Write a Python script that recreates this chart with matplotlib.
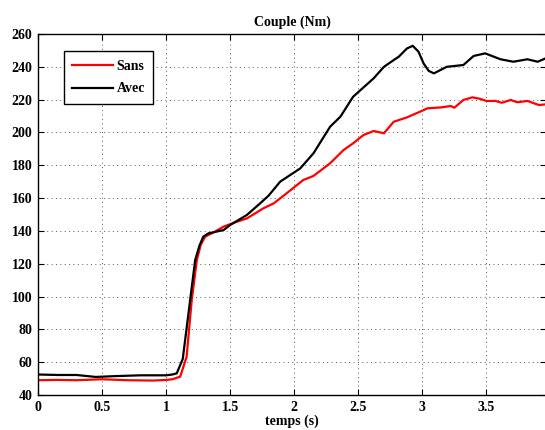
import matplotlib
matplotlib.use('Agg')
import matplotlib.pyplot as plt

# Values
t_sans = [0.0, 0.15, 0.3, 0.5, 0.7, 0.9, 1.0, 1.05, 1.11, 1.16, 1.2, 1.24, 1.27, 1.305,
          1.38, 1.448, 1.53, 1.63, 1.76, 1.84, 1.95, 2.07, 2.15, 2.28, 2.385, 2.46, 2.54,
          2.62, 2.70, 2.776, 2.88, 2.98, 3.04, 3.15, 3.22, 3.25, 3.32, 3.39, 3.45, 3.5,
          3.57, 3.62, 3.69, 3.74, 3.82, 3.91, 3.96]
v_sans = [49.0, 49.2, 49.0, 49.6, 49.0, 48.8, 49.2, 49.6, 51.2, 63.3, 97.9, 122.3, 131.5, 136.5,
          139.5, 142.6, 145.0, 147.6, 153.8, 156.8, 163.5, 171.0, 173.5, 181.2, 189.3, 193.4, 198.4,
          200.9, 199.5, 206.5, 209.2, 212.6, 214.7, 215.3, 216.1, 215.1, 219.8, 221.4, 220.5, 219.2,
          219.2, 218.1, 219.8, 218.4, 219.2, 216.7, 217.1]

t_avec = [0.0, 0.15, 0.3, 0.45, 0.6, 0.8, 1.0, 1.05, 1.083, 1.13, 1.1875, 1.227, 1.26, 1.29,
          1.33, 1.448, 1.5, 1.63, 1.734, 1.8, 1.89, 2.047, 2.15, 2.28, 2.36, 2.46, 2.62,
          2.70, 2.776, 2.815, 2.88, 2.925, 2.97, 3.01, 3.05, 3.09, 3.19, 3.32, 3.4, 3.49, 3.61,
          3.71, 3.82, 3.9, 3.96]
v_avec = [52.5, 52.2, 52.2, 51.0, 51.5, 52.0, 52.0, 52.5, 53.2, 62.0, 97.9, 122.3, 131.0, 136.5,
          138.5, 140.5, 143.6, 149.7, 156.8, 161.5, 170.0, 178.1, 187.3, 203.5, 209.6, 221.8, 233.0,
          240.0, 244.1, 246.1, 251.2, 252.8, 249.2, 242.0, 237.5, 236.0, 240.0, 241.1, 246.6, 248.2, 244.6,
          243.1, 244.6, 243.1, 245.1]

x_ticks = [0, 0.5, 1, 1.5, 2, 2.5, 3, 3.5]
x_labels = ['0', '0.5', '1', '1.5', '2', '2.5', '3', '3.5']
y_ticks = list(range(40, 261, 20))

plt.rcParams['font.family'] = ['Liberation Serif', 'DejaVu Serif']
plt.rcParams['font.weight'] = 'bold'

fig = plt.figure(figsize=(5.45, 4.3), dpi=100)
ax = fig.add_axes([38 / 545, 35 / 430, 508 / 545, 361 / 430])

ax.plot(t_sans, v_sans, color='#ff0000', linewidth=1.6, label='Sans')
ax.plot(t_avec, v_avec, color='black', linewidth=1.6, label='Avec')

ax.set_xlim(0, 3.965)
ax.set_ylim(40, 260)
ax.set_xticks(x_ticks)
ax.set_xticklabels(x_labels)
ax.set_yticks(y_ticks)
ax.tick_params(direction='in', top=True, right=True, length=4, width=0.8,
               labelsize=10, pad=4)
for lbl in ax.get_xticklabels() + ax.get_yticklabels():
    lbl.set_fontweight('bold')

ax.grid(True, linestyle=(0, (1, 3.5)), color='0.35', linewidth=0.7)
for s in ax.spines.values():
    s.set_linewidth(1.0)

ax.set_title('Couple (Nm)', fontsize=10, fontweight='bold', pad=6)
ax.set_xlabel('temps (s)', fontsize=10, fontweight='bold', labelpad=1)

leg = ax.legend(loc='upper left', bbox_to_anchor=(0.051, 0.952), borderaxespad=0,
                fancybox=False, framealpha=1, edgecolor='black',
                prop={'weight': 'bold', 'size': 10}, handlelength=2.9,
                handletextpad=0.3, borderpad=0.6, labelspacing=0.7)
leg.get_frame().set_linewidth(1.0)

plt.savefig('out.png', dpi=100)
